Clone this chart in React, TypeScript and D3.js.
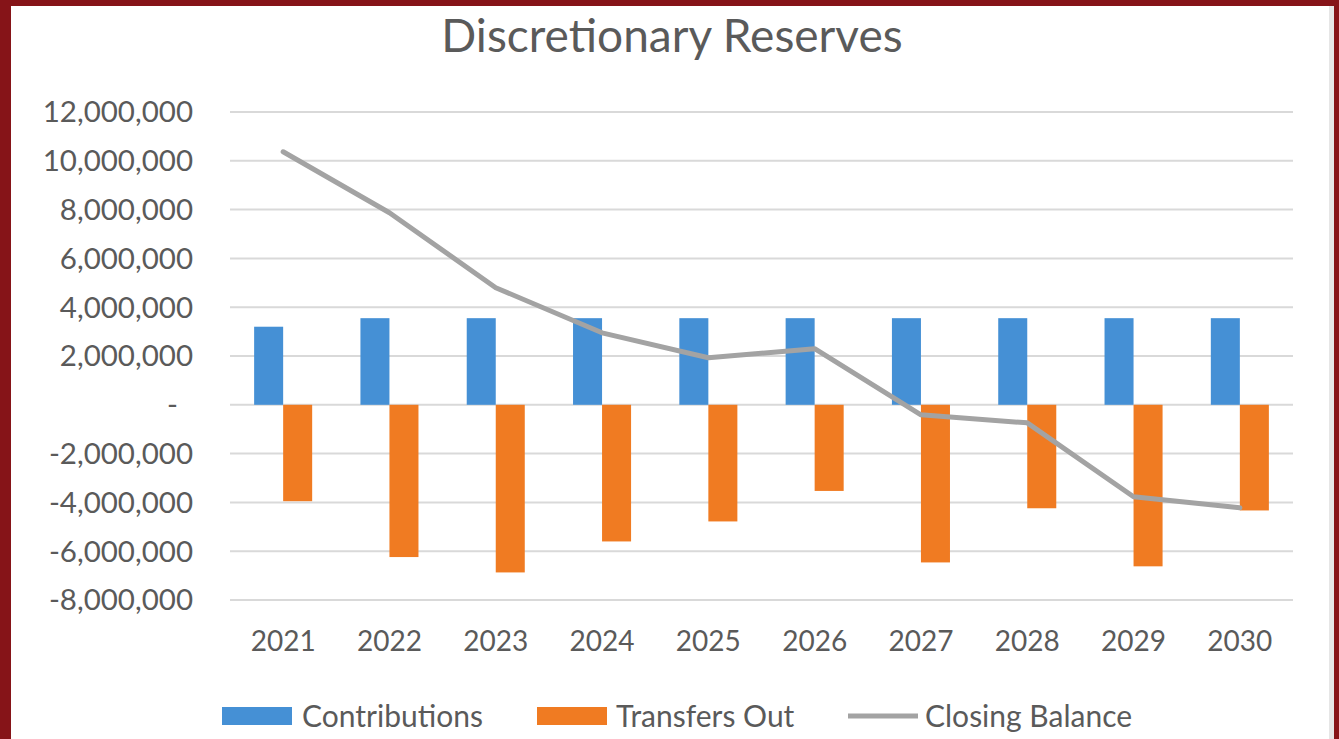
import React from "react";
import * as d3 from "d3";

const years = ["2021","2022","2023","2024","2025","2026","2027","2028","2029","2030"];
const contributions = [3200000,3550000,3550000,3550000,3550000,3550000,3550000,3550000,3550000,3550000];
const transfersOut = [-3950000,-6240000,-6870000,-5600000,-4780000,-3530000,-6460000,-4240000,-6620000,-4330000];
const closingBalance = [10370000,7870000,4800000,2950000,1930000,2300000,-410000,-740000,-3770000,-4220000];
const yTicks = [12000000,10000000,8000000,6000000,4000000,2000000,0,-2000000,-4000000,-6000000,-8000000];
const seriesNames = ["Contributions","Transfers Out","Closing Balance"];

const W = 1339, H = 739;
const BLUE = "#4590d5", ORANGE = "#f07b22", GRAY = "#a3a3a3";
const FONT = "Lato, 'Open Sans', sans-serif";
const TXT = "#5a5a5a";

export default function App() {
  const x = d3.scaleBand<string>().domain(years).range([230, 1293]).paddingInner(0.454).paddingOuter(0.227);
  const xs = d3.scaleBand<string>().domain(["c","t"]).range([0, x.bandwidth()]);
  const y = d3.scaleLinear().domain([-8000000, 12000000]).range([600, 112]);
  const fmt = d3.format(",");
  const label = (v: number) => (v === 0 ? "-" : v < 0 ? "-" + fmt(-v) : fmt(v));
  const line = d3.line<number>().x((_, i) => (x(years[i]) as number) + x.bandwidth() / 2).y(v => y(v));

  return (
    <svg width={W} height={H} style={{ position: "fixed", left: 0, top: 0 }} fontFamily={FONT}>
      <rect x={0} y={0} width={W} height={H} fill="#861418" />
      <rect x={11} y={6} width={1323} height={H} fill="#ffffff" />
      <rect x={1329} y={6} width={5} height={H} fill="#e6e6e6" />
      <text x={672} y={52} textAnchor="middle" fontSize={46} fill={TXT}>Discretionary Reserves</text>
      {yTicks.map(t => (
        <g key={t}>
          <line x1={230} x2={1293} y1={y(t)} y2={y(t)} stroke="#d9d9d9" strokeWidth={2} />
          <text x={t === 0 ? 178 : 193} y={y(t)} dy="0.35em" textAnchor="end" fontSize={29.5} fill={TXT}>{label(t)}</text>
        </g>
      ))}
      {years.map((yr, i) => (
        <g key={yr}>
          <rect x={(x(yr) as number) + (xs("c") as number)} width={xs.bandwidth()} y={y(Math.max(0, contributions[i]))} height={Math.abs(y(contributions[i]) - y(0))} fill={BLUE} />
          <rect x={(x(yr) as number) + (xs("t") as number)} width={xs.bandwidth()} y={y(Math.max(0, transfersOut[i]))} height={Math.abs(y(transfersOut[i]) - y(0))} fill={ORANGE} />
          <text x={(x(yr) as number) + x.bandwidth() / 2} y={651} textAnchor="middle" fontSize={28} fill={TXT}>{yr}</text>
        </g>
      ))}
      <path d={line(closingBalance) || ""} fill="none" stroke={GRAY} strokeWidth={5} strokeLinejoin="round" strokeLinecap="round" />
      <g fontSize={30} fill={TXT}>
        <rect x={222} y={707} width={70} height={18} fill={BLUE} />
        <text x={302} y={716} dy="0.35em">{seriesNames[0]}</text>
        <rect x={537} y={707} width={70} height={18} fill={ORANGE} />
        <text x={616} y={716} dy="0.35em">{seriesNames[1]}</text>
        <line x1={848} x2={918} y1={716} y2={716} stroke={GRAY} strokeWidth={5} />
        <text x={925} y={716} dy="0.35em">{seriesNames[2]}</text>
      </g>
    </svg>
  );
}
